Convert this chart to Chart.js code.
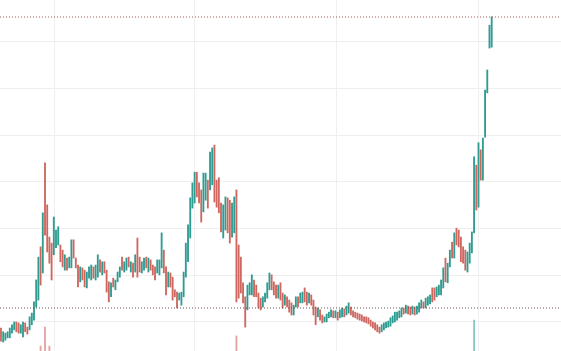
<!DOCTYPE html>
<html>
<head>
<meta charset="utf-8">
<script src="https://cdn.jsdelivr.net/npm/chart.js@4.4.0/dist/chart.umd.min.js"></script>
<style>
  html, body { margin: 0; padding: 0; background: #fff; }
  #wrap { width: 561px; height: 351px; }
</style>
</head>
<body>
<div id="wrap"><canvas id="chart" width="561" height="351"></canvas></div>
<script>
// Barras: abertura / fechamento por período
const opens = [
  8.7, 5.7, 6.1, 6.6, 6.6, 7.6, 8.3, 10.0, 9.8, 7.6,
  6.8, 9.8, 8.9, 8.3, 9.4, 10.4, 13.2, 14.7, 26.1, 20.5,
  44.1, 35.1, 28.2, 26.9, 24.4, 25.9, 26.5, 26.5, 25.4, 21.1,
  23.7, 21.6, 21.6, 27.6, 23.7, 22.2, 18.6, 21.6, 21.1, 17.3,
  19.4, 19.0, 21.8, 19.0, 19.6, 23.3, 20.1, 22.9, 21.1, 18.6,
  15.4, 19.4, 16.9, 18.6, 19.6, 23.9, 20.7, 21.1, 23.9, 20.7,
  22.6, 20.7, 28.0, 23.9, 20.5, 21.1, 23.9, 20.7, 23.3, 22.2,
  21.8, 20.5, 20.1, 21.6, 25.4, 21.8, 17.5, 20.5, 19.6, 16.9,
  16.4, 14.7, 13.6, 15.4, 19.6, 22.9, 28.0, 34.4, 35.5, 42.1,
  39.8, 38.3, 33.6, 36.1, 40.4, 38.3, 39.4, 47.9, 40.4, 40.9,
  35.5, 28.0, 29.7, 36.6, 36.1, 28.2, 29.1, 38.3, 26.5, 23.9,
  18.4, 15.4, 12.6, 15.8, 15.8, 19.0, 17.9, 16.2, 15.1, 13.2,
  14.3, 15.1, 16.9, 20.1, 18.6, 17.9, 15.1, 18.4, 16.2, 13.6,
  15.4, 14.7, 14.1, 11.5, 13.2, 15.4, 14.1, 14.1, 17.3, 16.4,
  14.1, 15.8, 14.7, 13.2, 11.1, 12.6, 11.5, 10.0, 10.0, 10.9,
  11.1, 12.4, 10.9, 12.1, 10.9, 11.1, 12.8, 11.5, 11.9, 13.2,
  12.4, 12.1, 11.9, 11.7, 11.5, 11.1, 11.1, 10.9, 10.4, 10.0,
  9.8, 9.4, 8.9, 7.9, 8.3, 8.7, 8.9, 9.1, 9.8, 10.0,
  10.4, 10.9, 11.1, 13.0, 11.9, 13.4, 13.2, 11.7, 13.2, 11.7,
  12.1, 13.0, 14.3, 13.0, 13.6, 13.9, 17.3, 17.3, 15.4, 15.8,
  15.8, 17.3, 23.7, 18.4, 21.8, 27.1, 23.7, 30.1, 29.7, 28.2,
  26.1, 25.4, 20.7, 22.6, 24.8, 29.1, 43.6, 34.6, 46.9, 40.4,
  49.6, 59.1, 68.7, 68.9
];
const closes = [
  5.9, 7.9, 7.6, 7.9, 8.7, 9.4, 10.0, 7.9, 7.6, 9.4,
  10.0, 7.9, 7.4, 11.1, 11.9, 14.3, 19.0, 23.9, 17.9, 33.4,
  28.6, 25.0, 22.6, 19.0, 32.5, 29.7, 30.4, 22.9, 21.8, 24.4,
  21.1, 23.9, 27.6, 23.7, 21.6, 17.5, 21.8, 19.0, 17.5, 20.7,
  21.8, 22.2, 19.4, 22.2, 24.4, 20.7, 22.9, 20.5, 16.4, 14.3,
  18.4, 17.5, 19.0, 20.7, 21.8, 21.1, 22.9, 23.7, 21.8, 22.9,
  19.6, 24.4, 19.6, 20.7, 22.9, 23.7, 21.6, 23.7, 21.1, 20.1,
  19.0, 23.3, 23.3, 29.1, 20.5, 15.8, 20.7, 17.5, 14.7, 15.4,
  13.0, 16.2, 16.4, 20.7, 26.9, 30.8, 36.6, 39.8, 42.1, 36.8,
  35.5, 31.4, 41.9, 41.9, 34.4, 46.4, 47.3, 35.7, 34.6, 33.4,
  29.3, 35.1, 36.8, 29.1, 26.9, 35.5, 36.8, 14.3, 15.1, 16.2,
  14.1, 8.9, 17.9, 18.4, 20.1, 15.4, 15.4, 13.0, 12.6, 15.4,
  16.2, 18.4, 20.5, 16.9, 15.8, 15.1, 17.9, 14.7, 13.0, 15.8,
  13.2, 12.1, 11.5, 13.6, 15.4, 13.2, 16.2, 16.4, 14.3, 13.6,
  16.2, 13.6, 11.5, 9.4, 13.0, 10.4, 9.8, 11.1, 11.7, 12.1,
  12.6, 10.9, 12.4, 10.4, 12.6, 13.0, 11.1, 13.4, 14.1, 11.5,
  11.1, 10.9, 10.6, 10.4, 10.2, 10.0, 9.8, 9.6, 9.1, 8.7,
  8.3, 7.9, 7.6, 9.4, 9.8, 10.0, 10.2, 10.9, 11.3, 12.1,
  12.1, 12.4, 13.0, 11.7, 13.6, 11.7, 11.5, 13.4, 11.5, 13.4,
  14.1, 14.7, 13.0, 15.1, 15.4, 15.8, 14.3, 14.7, 17.5, 17.9,
  19.0, 21.6, 18.6, 22.6, 25.4, 23.7, 29.1, 26.5, 26.1, 22.9,
  22.6, 21.1, 25.0, 26.9, 29.3, 45.4, 34.0, 48.4, 40.4, 49.4,
  59.7, 64.0, 73.6, 75.4
];

// Volume (só os picos visíveis)
const volIndex = [18, 20, 22, 107, 215];
const volValue = [14, 68, 14, 43, 88];

// Linhas de grade e níveis marcados
const priceGrid = [10, 20, 30, 40, 50, 60, 70];
const timeGrid = [24.1, 87.8, 152.3, 216.8];
const levelHigh = 75.35;
const levelLow = 13.0;

const UP = '#2f9c91';
const DOWN = '#cf6760';
const UP_VOL = 'rgba(47,156,145,0.55)';
const DOWN_VOL = 'rgba(207,103,96,0.6)';

const X_MIN = -0.45;
const X_MAX = 254.5;

const candleData = opens.map((o, i) => ({ x: i, y: [o, closes[i]] }));
const candleColors = opens.map((o, i) => closes[i] >= o ? UP : DOWN);
const volData = volIndex.map((idx, k) => ({ x: idx, y: volValue[k] }));
const volColors = volIndex.map(idx => closes[idx] >= opens[idx] ? UP_VOL : DOWN_VOL);

const ctx = document.getElementById('chart');

new Chart(ctx, {
    type: 'bar',
    data: {
        datasets: [
            {
                label: 'Preço',
                data: candleData,
                backgroundColor: candleColors,
                barThickness: 1.2,
                grouped: false,
                yAxisID: 'y',
                order: 1
            },
            {
                label: 'Volume',
                data: volData,
                backgroundColor: volColors,
                barThickness: 1.2,
                grouped: false,
                yAxisID: 'yv',
                order: 2
            },
            {
                type: 'line',
                label: 'Máxima',
                data: [{ x: X_MIN, y: levelHigh }, { x: X_MAX, y: levelHigh }],
                borderColor: '#b05a5a',
                borderWidth: 1,
                borderDash: [1, 2],
                pointRadius: 0,
                yAxisID: 'y',
                order: 0
            },
            {
                type: 'line',
                label: 'Suporte',
                data: [{ x: X_MIN, y: levelLow }, { x: X_MAX, y: levelLow }],
                borderColor: '#6a5050',
                borderWidth: 1,
                borderDash: [1, 2],
                pointRadius: 0,
                yAxisID: 'y',
                order: 0
            }
        ]
    },
    options: {
        responsive: false,
        animation: false,
        devicePixelRatio: 1,
        layout: { padding: 0 },
        plugins: {
            legend: { display: false },
            tooltip: { enabled: false }
        },
        scales: {
            x: {
                type: 'linear',
                min: X_MIN,
                max: X_MAX,
                offset: false,
                ticks: { display: false },
                grid: { color: '#efefef', drawTicks: false, offset: false },
                border: { display: false },
                afterBuildTicks: s => { s.ticks = timeGrid.map(v => ({ value: v })); }
            },
            y: {
                min: 3.78,
                max: 79.0,
                ticks: { display: false },
                grid: { color: '#efefef', drawTicks: false },
                border: { display: false },
                afterBuildTicks: s => { s.ticks = priceGrid.map(v => ({ value: v })); }
            },
            yv: {
                display: false,
                min: 0,
                max: 1000
            }
        }
    }
});
</script>
</body>
</html>
